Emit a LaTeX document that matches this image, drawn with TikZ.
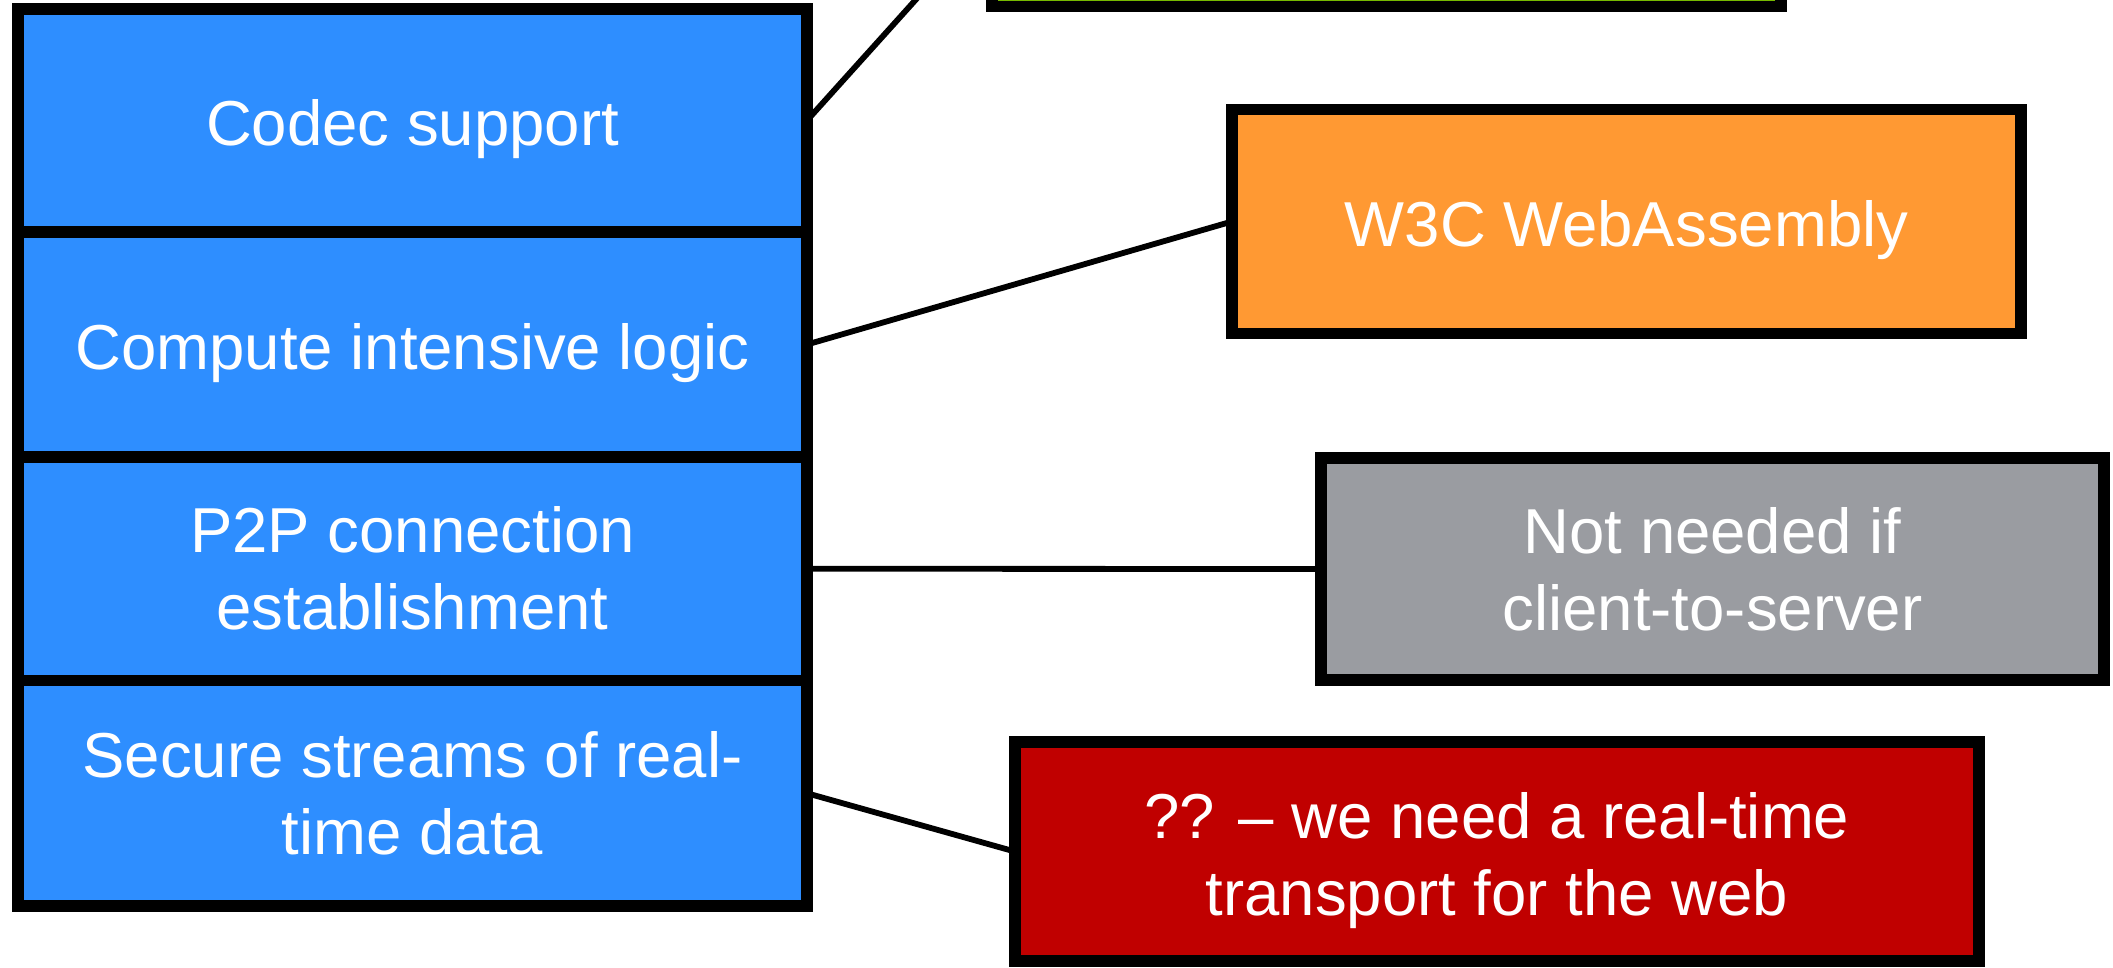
\documentclass[tikz,border=0pt]{standalone}
\usepackage{fontspec}
\setmainfont{Liberation Sans}
\definecolor{layerblue}{HTML}{2E8EFF}
\definecolor{wasmorange}{HTML}{FF9933}
\definecolor{notegray}{HTML}{9A9CA1}
\definecolor{gapred}{HTML}{C00000}
\definecolor{codecgreen}{HTML}{76B900}
\tikzset{
  box/.style={draw=black, line width=5.8pt, text=white, align=center,
    inner sep=0pt, outer sep=0pt,
    font=\fontsize{31.75}{38.5}\selectfont},
  lowered/.style={text height=32pt, text depth=6.7pt},
  layer/.style={box, fill=layerblue, minimum width=394.5pt},
  link/.style={draw=black, line width=2.9pt}
}
\begin{document}
\begin{tikzpicture}[x=0.5pt, y=-0.5pt]
  \useasboundingbox (0,0) rectangle (2113,968);
  \clip (0,0) rectangle (2113,968);

  % left column: the stack of capabilities
  \node[layer, lowered, minimum height=111.5pt] (codec)   at (412.5,120.5)  {Codec support};
  \node[layer, lowered, minimum height=112.5pt] (compute) at (412.5,344.5)  {Compute intensive logic};
  \node[layer, minimum height=111.75pt] (p2p)    at (412.5,568.75) {P2P connection\\establishment};
  \node[layer, minimum height=112.75pt] (secure) at (412.5,793.25) {Secure streams of real-\\time data};

  % right column: what provides each capability
  \node[box, fill=codecgreen, minimum width=394.5pt, minimum height=91.7pt] (green) at (1386.5,-85) {};
  \node[box, lowered, fill=wasmorange, minimum width=394.5pt, minimum height=112pt] (wasm) at (1626.5,221.5) {W3C WebAssembly};
  \node[box, fill=notegray, minimum width=391.5pt, minimum height=111pt] (notneeded) at (1712.5,569) {Not needed if\\client-to-server};
  \node[box, fill=gapred, minimum width=482.25pt, minimum height=109.5pt] (gap) at (1497,851.5)
    {\rule{0pt}{32pt}?? – we need a real-time\\transport for the web};

  % connectors
  \draw[link] (codec.east)   -- (green.west);
  \draw[link] (compute.east) -- (wasm.west);
  \draw[link] (p2p.east)     -- (notneeded.west);
  \draw[link] (secure.east)  -- (gap.west);
\end{tikzpicture}
\end{document}
